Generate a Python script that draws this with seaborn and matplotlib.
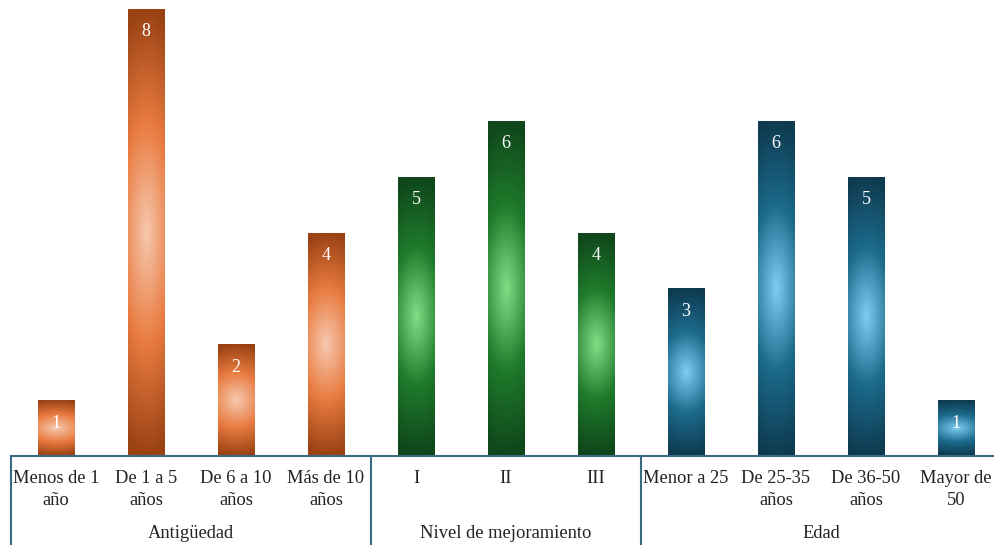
import numpy as np
import pandas as pd
import seaborn as sns
from matplotlib import pyplot as plt
from matplotlib.colors import LinearSegmentedColormap

categorias = ['Menos de 1\naño', 'De 1 a 5\naños', 'De 6 a 10\naños', 'Más de 10\naños',
              'I', 'II', 'III',
              'Menor a 25', 'De 25-35\naños', 'De 36-50\naños', 'Mayor de\n50']
valores = [1, 8, 2, 4, 5, 6, 4, 3, 6, 5, 1]
grupo = ['Antigüedad'] * 4 + ['Nivel de mejoramiento'] * 3 + ['Edad'] * 4
grupos = ['Antigüedad', 'Nivel de mejoramiento', 'Edad']

# centro -> medio -> borde del degradado
colores = {
    'Antigüedad': ['#f6c8ae', '#e97b40', '#9a4214'],
    'Nivel de mejoramiento': ['#80de86', '#1f7a2b', '#0f461b'],
    'Edad': ['#7ecdf2', '#1c6a8b', '#0e3b50'],
}

df = pd.DataFrame({'cat': categorias, 'val': valores, 'grupo': grupo})

sns.set_style('white')
plt.rcParams['font.family'] = ['Liberation Serif', 'DejaVu Serif']

fig = plt.figure(figsize=(9.94, 5.45), dpi=100)
ax = fig.add_axes([11 / 994, 89 / 545, 990 / 994, 447 / 545])

sns.barplot(data=df, x='cat', y='val', order=categorias, width=0.41,
            color='#e97b40', ax=ax)

yy, xx = np.mgrid[-1:1:200j, -1:1:60j]
dist = np.clip(np.sqrt(yy ** 2 + 0.12 * xx ** 2), 0, 1)

for bar, g, v in zip(ax.patches, grupo, valores):
    cmap = LinearSegmentedColormap.from_list(g, colores[g])
    x0, y0 = bar.get_x(), bar.get_y()
    w, h = bar.get_width(), bar.get_height()
    im = ax.imshow(dist, cmap=cmap, vmin=0, vmax=1, aspect='auto',
                   extent=[x0, x0 + w, y0, y0 + h], zorder=2)
    im.set_clip_path(bar)
    bar.set_facecolor('none')
    bar.set_edgecolor('none')
    ax.annotate(str(v), (x0 + w / 2, v), xytext=(0, -23), textcoords='offset pixels',
                ha='center', va='center', color='white', fontsize=13, zorder=3)

ax.set_xlim(-0.5, len(categorias) - 0.5)
ax.set_ylim(0, 8)
ax.set_xlabel('')
ax.set_ylabel('')
ax.set_yticks([])
ax.set_xticks(range(len(categorias)))
ax.set_xticklabels(categorias, fontsize=13.3, color='#222222', linespacing=1.42)
ax.tick_params(axis='x', length=0, pad=10)

for s in ['top', 'left', 'right']:
    ax.spines[s].set_visible(False)
ax.spines['bottom'].set_color('#3b6b82')
ax.spines['bottom'].set_linewidth(1.5)

# separadores y nombres de grupo
limites = [-0.5, 3.5, 6.5, 10.5]
for xl in limites:
    ax.axvline(xl, ymin=-0.2, ymax=0, clip_on=False, color='#3b6b82', lw=1.5)
for i, g in enumerate(grupos):
    xc = (limites[i] + limites[i + 1]) / 2
    ax.annotate(g, (xc, 0), xycoords=('data', 'axes fraction'), xytext=(0, -78),
                textcoords='offset pixels', ha='center', va='center',
                fontsize=13.3, color='#222222')

fig.savefig('out.png', dpi=100)
